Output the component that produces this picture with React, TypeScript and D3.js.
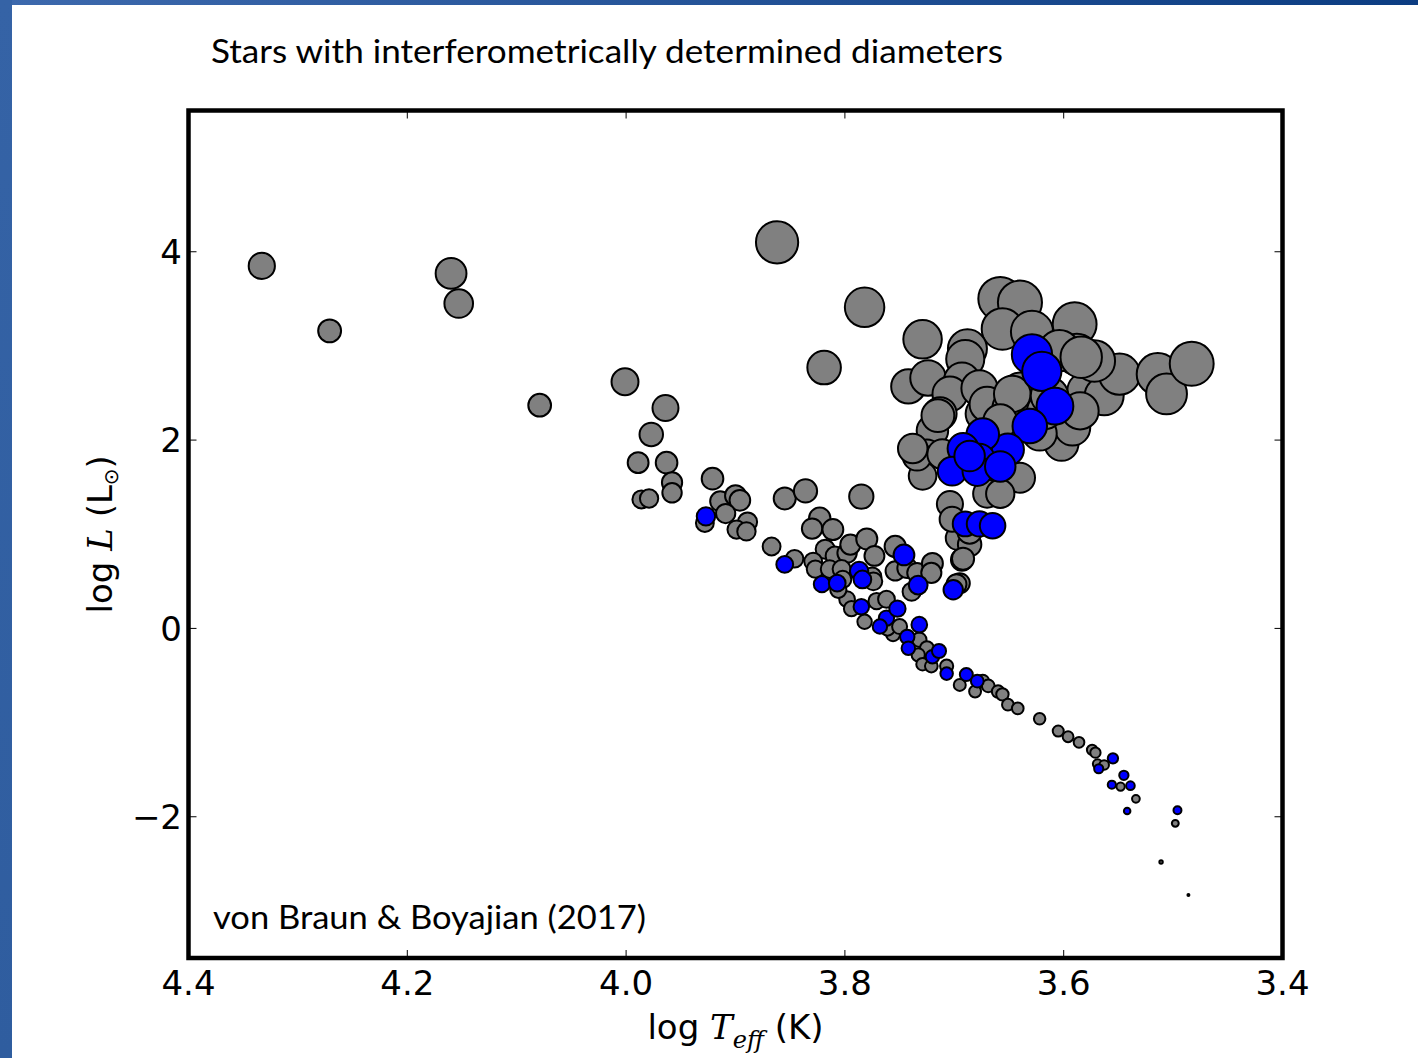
import React, { useEffect, useRef } from "react";
import * as d3 from "d3";

// log Teff (K), log L (Lsun)
const grayStars: [number, number][] = [
  [4.333, 3.85], [4.271, 3.16], [4.160, 3.77], [4.153, 3.45], [4.079, 2.37], [4.001, 2.62],
  [3.862, 4.10], [3.782, 3.41], [3.819, 2.77],
  [3.964, 2.34], [3.977, 2.06], [3.989, 1.76], [3.963, 1.76], [3.958, 1.55], [3.958, 1.44],
  [3.986, 1.37], [3.979, 1.38],
  [3.921, 1.59], [3.914, 1.35], [3.900, 1.41], [3.896, 1.36], [3.909, 1.22], [3.889, 1.13],
  [3.899, 1.05], [3.890, 1.03], [3.928, 1.12],
  [3.855, 1.38], [3.836, 1.46], [3.785, 1.40], [3.867, 0.87], [3.846, 0.74],
  [3.823, 1.17], [3.830, 1.06], [3.811, 1.05], [3.818, 0.84], [3.809, 0.77], [3.798, 0.80],
  [3.795, 0.89], [3.780, 0.95], [3.773, 0.77], [3.829, 0.71], [3.827, 0.63], [3.814, 0.63],
  [3.803, 0.63], [3.802, 0.52], [3.775, 0.55], [3.774, 0.50], [3.798, 0.31], [3.806, 0.41],
  [3.794, 0.21], [3.782, 0.07], [3.771, 0.29], [3.762, 0.31], [3.754, 0.87], [3.754, 0.61],
  [3.743, 0.64], [3.734, 0.59], [3.720, 0.69], [3.721, 0.59], [3.739, 0.39], [3.695, 0.48],
  [3.693, 0.73], [3.697, 0.96], [3.756, -0.06], [3.761, 0.00], [3.750, 0.02], [3.732, -0.12],
  [3.725, -0.21], [3.733, -0.28], [3.729, -0.38], [3.721, -0.40], [3.707, -0.40],
  [3.695, -0.60], [3.681, -0.67],
  [3.674, -0.56], [3.669, -0.61], [3.660, -0.67], [3.656, -0.70], [3.651, -0.81],
  [3.642, -0.85], [3.622, -0.96], [3.605, -1.09], [3.596, -1.15], [3.586, -1.21],
  [3.574, -1.29], [3.571, -1.32], [3.569, -1.44], [3.563, -1.45], [3.548, -1.68],
  [3.534, -1.81], [3.498, -2.07], [3.511, -2.48], [3.486, -2.83],
  // giant branch
  [3.729, 3.07], [3.658, 3.50], [3.640, 3.46], [3.656, 3.18], [3.629, 3.15], [3.590, 3.23],
  [3.688, 2.97], [3.690, 2.86], [3.742, 2.57], [3.724, 2.66], [3.693, 2.63], [3.704, 2.49],
  [3.713, 2.28], [3.677, 2.55], [3.674, 2.28], [3.647, 2.36], [3.640, 2.52], [3.720, 2.10],
  [3.725, 1.85], [3.729, 1.62], [3.602, 1.96], [3.592, 2.13], [3.579, 2.52], [3.563, 2.47],
  [3.549, 2.70], [3.514, 2.70], [3.506, 2.49], [3.483, 2.81], [3.588, 2.91], [3.604, 2.95],
  [3.640, 1.60], [3.670, 1.43], [3.704, 1.32], [3.702, 1.16], [3.686, 0.89], [3.692, 0.74],
  [3.585, 2.31], [3.715, 2.26], [3.734, 1.83], [3.622, 2.07], [3.658, 1.43], [3.711, 1.85],
  [3.738, 1.91], [3.670, 2.38], [3.649, 2.34], [3.647, 2.49], [3.663, 2.10], [3.658, 2.20],
  [3.617, 2.31], [3.613, 2.47], [3.572, 2.84], [3.584, 2.88], [3.698, 0.47], [3.686, 1.03],
];

const blueStars: [number, number][] = [
  [3.927, 1.19], [3.855, 0.68], [3.821, 0.47], [3.807, 0.48], [3.787, 0.61], [3.784, 0.52],
  [3.785, 0.23], [3.762, 0.11], [3.768, 0.02], [3.752, 0.21], [3.746, 0.78], [3.733, 0.46],
  [3.701, 0.41], [3.732, 0.04], [3.743, -0.09], [3.742, -0.21], [3.720, -0.30], [3.714, -0.24],
  [3.707, -0.48], [3.689, -0.49], [3.679, -0.56],
  [3.555, -1.38], [3.568, -1.49], [3.556, -1.66], [3.545, -1.56], [3.539, -1.67],
  [3.542, -1.94], [3.496, -1.93],
  [3.629, 2.91], [3.620, 2.73], [3.608, 2.36], [3.631, 2.15], [3.651, 1.90], [3.674, 2.06],
  [3.677, 1.80], [3.692, 1.91], [3.702, 1.67], [3.679, 1.67], [3.658, 1.72], [3.686, 1.83],
  [3.690, 1.11], [3.677, 1.11], [3.665, 1.09],
];

const xTicks = [4.4, 4.2, 4.0, 3.8, 3.6, 3.4];
const yTicks = [-2, 0, 2, 4];

const W = 1418;
const H = 1058;
const frame = { left: 188.5, right: 1282.5, top: 110.5, bottom: 958 };
const LOG_TSUN = 3.7613;

const App = () => {
  const svgRef = useRef<SVGSVGElement | null>(null);

  useEffect(() => {
    const svg = d3.select(svgRef.current);
    svg.selectAll("*").remove();

    const x = d3.scaleLinear().domain([4.4, 3.4]).range([frame.left, frame.right]);
    const y = d3.scaleLinear().domain([-3.5, 5.5]).range([frame.bottom, frame.top]);
    // marker diameter follows log radius (Stefan-Boltzmann)
    const dScale = d3.scaleLinear().domain([-1, 2.2]).range([1.5, 49.5]);
    const logR = (d: [number, number]) => 0.5 * d[1] - 2 * (d[0] - LOG_TSUN);
    const radius = (d: [number, number]) => Math.max(1, dScale(logR(d)) / 2 - 1);

    // slide decoration
    const defs = svg.append("defs");
    const g1 = defs.append("linearGradient").attr("id", "topbar").attr("x1", 0).attr("x2", 1);
    g1.append("stop").attr("offset", 0).attr("stop-color", "#3d69ad");
    g1.append("stop").attr("offset", 1).attr("stop-color", "#0c3d82");
    const g2 = defs.append("linearGradient").attr("id", "leftbar").attr("x1", 0).attr("x2", 0).attr("y1", 0).attr("y2", 1);
    g2.append("stop").attr("offset", 0).attr("stop-color", "#3563a6");
    g2.append("stop").attr("offset", 1).attr("stop-color", "#2f5d9f");

    svg.append("rect").attr("width", W).attr("height", H).attr("fill", "#fff");
    svg.append("rect").attr("width", W).attr("height", 5).attr("fill", "url(#topbar)");
    svg.append("rect").attr("width", 12).attr("height", H).attr("fill", "url(#leftbar)");

    svg.append("text")
      .attr("x", 211).attr("y", 63)
      .attr("font-family", "Lato, 'Open Sans', sans-serif")
      .attr("font-size", 33)
      .attr("textLength", 792)
      .attr("lengthAdjust", "spacingAndGlyphs")
      .attr("fill", "#000")
      .text("Stars with interferometrically determined diameters");

    const plot = svg.append("g");
    plot.append("defs").append("clipPath").attr("id", "clip")
      .append("rect")
      .attr("x", frame.left).attr("y", frame.top)
      .attr("width", frame.right - frame.left).attr("height", frame.bottom - frame.top);

    const pts = plot.append("g").attr("clip-path", "url(#clip)");
    const drawSet = (data: [number, number][], fill: string) => {
      pts.append("g").selectAll("circle")
        .data(data)
        .join("circle")
        .attr("cx", d => x(d[0]))
        .attr("cy", d => y(d[1]))
        .attr("r", radius)
        .attr("fill", fill)
        .attr("stroke", "#000")
        .attr("stroke-width", 2);
    };
    drawSet(grayStars, "#808080");
    drawSet(blueStars, "#0000ff");

    // ticks (inward, all four sides)
    const tl = 8;
    xTicks.forEach(t => {
      plot.append("line").attr("x1", x(t)).attr("x2", x(t))
        .attr("y1", frame.bottom).attr("y2", frame.bottom - tl)
        .attr("stroke", "#000").attr("stroke-width", 1);
      plot.append("line").attr("x1", x(t)).attr("x2", x(t))
        .attr("y1", frame.top).attr("y2", frame.top + tl)
        .attr("stroke", "#000").attr("stroke-width", 1);
      plot.append("text")
        .attr("x", x(t)).attr("y", 995)
        .attr("text-anchor", "middle")
        .attr("font-family", "'DejaVu Sans', sans-serif")
        .attr("font-size", 34)
        .text(t.toFixed(1));
    });
    yTicks.forEach(t => {
      plot.append("line").attr("x1", frame.left).attr("x2", frame.left + tl)
        .attr("y1", y(t)).attr("y2", y(t))
        .attr("stroke", "#000").attr("stroke-width", 1);
      plot.append("line").attr("x1", frame.right).attr("x2", frame.right - tl)
        .attr("y1", y(t)).attr("y2", y(t))
        .attr("stroke", "#000").attr("stroke-width", 1);
      plot.append("text")
        .attr("x", 182).attr("y", y(t))
        .attr("dy", "0.36em")
        .attr("text-anchor", "end")
        .attr("font-family", "'DejaVu Sans', sans-serif")
        .attr("font-size", 34)
        .text(t < 0 ? "\u2212" + Math.abs(t) : String(t));
    });

    plot.append("rect")
      .attr("x", frame.left).attr("y", frame.top)
      .attr("width", frame.right - frame.left).attr("height", frame.bottom - frame.top)
      .attr("fill", "none").attr("stroke", "#000").attr("stroke-width", 4.5);

    svg.append("text")
      .attr("x", 213).attr("y", 929)
      .attr("font-family", "Lato, 'Open Sans', sans-serif")
      .attr("font-size", 33)
      .attr("textLength", 433)
      .attr("lengthAdjust", "spacingAndGlyphs")
      .text("von Braun & Boyajian (2017)");

    // x label: log T_eff (K)
    const xl = svg.append("text")
      .attr("x", (frame.left + frame.right) / 2).attr("y", 1039)
      .attr("text-anchor", "middle")
      .attr("font-family", "'DejaVu Sans', sans-serif")
      .attr("font-size", 34);
    xl.append("tspan").text("log ");
    xl.append("tspan").attr("font-family", "'DejaVu Serif', serif").attr("font-style", "italic").text("T");
    xl.append("tspan").attr("font-family", "'DejaVu Serif', serif").attr("font-style", "italic")
      .attr("font-size", 24).attr("dy", 9).text("eff");
    xl.append("tspan").attr("dy", -9).text(" (K)");

    // y label: log L (L_sun)
    const yl = svg.append("text")
      .attr("transform", `translate(112,${(frame.top + frame.bottom) / 2}) rotate(-90)`)
      .attr("text-anchor", "middle")
      .attr("font-family", "'DejaVu Sans', sans-serif")
      .attr("font-size", 34);
    yl.append("tspan").text("log ");
    yl.append("tspan").attr("font-family", "'DejaVu Serif', serif").attr("font-style", "italic").text("L");
    yl.append("tspan").text(" (L");
    yl.append("tspan").attr("font-size", 20).attr("dy", 6).text("\u2299");
    yl.append("tspan").attr("dy", -6).text(")");
  }, []);

  return (
    <svg
      ref={svgRef}
      width={W}
      height={H}
      style={{ position: "absolute", left: 0, top: 0, display: "block" }}
    />
  );
};

export default App;
